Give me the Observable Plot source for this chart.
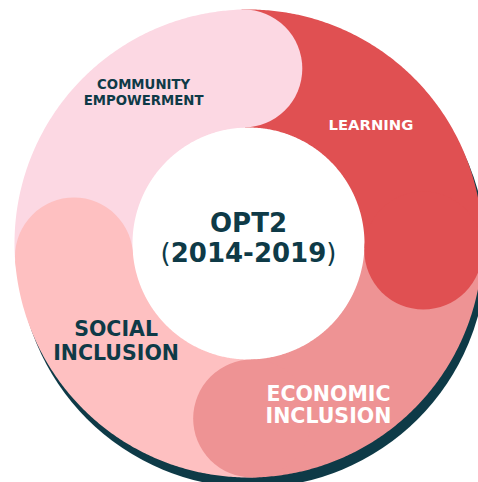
<!DOCTYPE html>
<html>
<head>
<meta charset="utf-8">
<script src="https://cdn.jsdelivr.net/npm/d3@7"></script>
<script src="https://cdn.jsdelivr.net/npm/@observablehq/plot@0.6"></script>
<style>
  html, body { margin: 0; padding: 0; background: #ffffff; }
  #chart svg { display: block; }
</style>
</head>
<body>
<div id="chart"></div>
<script>
// ---- data ----
const categories = ["COMMUNITY\nEMPOWERMENT", "LEARNING", "ECONOMIC\nINCLUSION", "SOCIAL\nINCLUSION"];
// angle (degrees clockwise from 12 o'clock) where each segment's rounded head sits
const capAngles = [358.3, 92.3, 178.8, 265.7];
const segmentColors = ["#fcd8e3", "#e05052", "#ee9394", "#fec0c1"];
const labelColors = ["#0e3a47", "#ffffff", "#ffffff", "#0e3a47"];
const centerTitle = "OPT2";
const centerSubtitle = "(2014-2019)";

// ---- layout (styles / sizes) ----
const DARK = "#0e3a47";
const R_OUT = 234, R_IN = 116;
const R_MID = (R_OUT + R_IN) / 2, CAP_R = (R_OUT - R_IN) / 2;
const SHADOW = {dx: 4, dy: 10};
const labelLayout = [
  {angle: 325.4, radius: 184.7, size: 13.3, lh: 1.2},
  {angle: 45.8,  radius: 170.8, size: 14.8, lh: 1.2},
  {angle: 153.6, radius: 179.8, size: 20.5, lh: 1.1},
  {angle: 233.9, radius: 163.9, size: 20.5, lh: 1.17}
];

const rad = d => d * Math.PI / 180;
const polar = (a, r) => ({x: r * Math.sin(rad(a)), y: -r * Math.cos(rad(a))});

// band polygons built from the cap angles
const bandPts = [];
const caps = [];
categories.forEach((cat, i) => {
  const start = capAngles[(i + categories.length - 1) % categories.length];
  let end = capAngles[i];
  if (end < start) end += 360;
  const n = Math.ceil((end - start) / 0.5);
  for (let k = 0; k <= n; k++) {
    const a = start + (end - start) * k / n;
    bandPts.push({cat, ...polar(a, R_OUT)});
  }
  for (let k = n; k >= 0; k--) {
    const a = start + (end - start) * k / n;
    bandPts.push({cat, ...polar(a, R_IN)});
  }
  caps.push({cat, ...polar(capAngles[i], R_MID)});
});

const labelMarks = categories.map((cat, i) => {
  const L = labelLayout[i];
  const p = polar(L.angle, L.radius);
  return Plot.text([{...p, t: cat}], {
    x: "x", y: "y", text: "t",
    fill: labelColors[i],
    fontSize: L.size, lineHeight: L.lh,
    fontWeight: "bold", fontFamily: "DejaVu Sans",
    textAnchor: "middle", lineAnchor: "middle"
  });
});

const chart = Plot.plot({
  width: 478,
  height: 482,
  margin: 0,
  x: {domain: [-248, 230], axis: null},
  y: {domain: [-243, 239], range: [0, 482], axis: null},
  color: {domain: categories, range: segmentColors},
  style: {background: "#ffffff"},
  marks: [
    Plot.dot([{x: SHADOW.dx, y: SHADOW.dy}], {x: "x", y: "y", r: R_OUT, fill: DARK, stroke: "none"}),
    Plot.dot([{x: 0, y: 0}], {x: "x", y: "y", r: R_IN + 3, fill: "#ffffff", stroke: "none"}),
    Plot.line(bandPts, {x: "x", y: "y", z: "cat", fill: "cat", stroke: "none", curve: "linear-closed"}),
    Plot.dot(caps, {x: "x", y: "y", r: CAP_R, fill: "cat", stroke: "none"}),
    ...labelMarks,
    Plot.text([{x: 0, y: -20, t: centerTitle}], {
      x: "x", y: "y", text: "t", fill: DARK, fontSize: 26,
      fontWeight: "bold", fontFamily: "DejaVu Sans", textAnchor: "middle", lineAnchor: "middle"
    }),
    Plot.text([{x: 0, y: 10.5, t: centerSubtitle}], {
      x: "x", y: "y", text: "t", fill: DARK, fontSize: 26,
      fontWeight: "bold", fontFamily: "DejaVu Sans", textAnchor: "middle", lineAnchor: "middle"
    })
  ]
});

document.getElementById("chart").appendChild(chart);

// lighter parentheses in the subtitle
d3.select(chart).selectAll("text")
  .filter(function () { return this.textContent === centerSubtitle; })
  .each(function () {
    const inner = centerSubtitle.slice(1, -1);
    const el = d3.select(this);
    el.text(null);
    el.append("tspan").attr("font-weight", "normal").text(centerSubtitle[0]);
    el.append("tspan").text(inner);
    el.append("tspan").attr("font-weight", "normal").text(centerSubtitle[centerSubtitle.length - 1]);
  });
</script>
</body>
</html>
